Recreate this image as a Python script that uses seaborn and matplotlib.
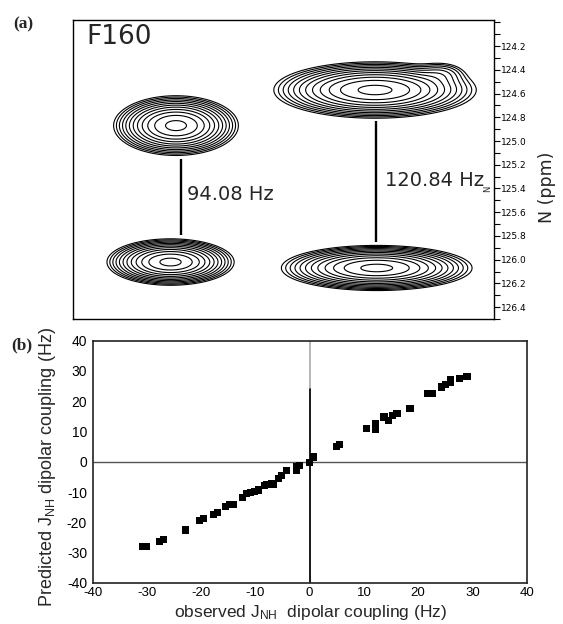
import numpy as np
import pandas as pd
import matplotlib
matplotlib.use("Agg")
import matplotlib.pyplot as plt
from matplotlib.ticker import MultipleLocator, FixedLocator
import seaborn as sns

# ---------------- data ----------------
# panel (a): peak parameters (x in arbitrary 1H units 0-100, y in 15N ppm)
peak_x = [24.5, 23.2, 71.8, 72.2, 87.5]
peak_y = [124.87, 126.02, 124.57, 126.07, 124.43]
peak_sx = [5.3, 5.4, 8.6, 8.1, 3.0]
peak_sy = [0.090, 0.070, 0.085, 0.068, 0.05]
peak_amp = [1.0, 1.0, 1.0, 1.0, 0.06]
contour_levels = [0.02 * 1.413 ** k for k in range(12)]
n_ticks = [124.2, 124.4, 124.6, 124.8, 125.0, 125.2, 125.4, 125.6, 125.8, 126.0, 126.2, 126.4]
n_tick_labels = ["124.2", "124.4", "124.6", "124.8", "125.0", "125.2", "125.4", "125.6",
                 "125.8", "126.0", "126.2", "126.4"]
couplings = ["94.08 Hz", "120.84 Hz"]

# panel (b): observed vs predicted dipolar couplings (Hz)
observed = [-30.8, -30.0, -27.6, -26.9, -22.8, -20.3, -19.6, -17.7, -17.0, -15.5, -14.7, -14.0,
            -12.3, -11.6, -10.9, -10.1, -9.5, -8.4, -7.9, -7.0, -6.6, -5.8, -5.2, -4.2,
            -2.5, -2.5, -1.8, -0.1, 0.7, 5.0, 5.5, 10.4, 12.1, 12.1, 13.7, 14.5, 15.3, 16.1,
            18.5, 21.8, 22.6, 24.3, 25.0, 26.0, 26.0, 27.6, 29.0]
predicted = [-28.0, -28.0, -26.4, -25.5, -22.5, -19.5, -18.8, -17.3, -16.6, -14.8, -14.0, -14.0,
             -11.8, -10.4, -10.0, -9.8, -9.3, -7.9, -7.6, -7.3, -7.3, -5.6, -4.5, -2.9,
             -3.0, -1.5, -1.2, -0.2, 1.6, 5.0, 5.6, 11.0, 10.6, 12.8, 14.8, 13.7, 15.3, 16.1,
             17.6, 22.7, 22.5, 24.7, 25.5, 26.3, 27.3, 27.5, 28.2]
b_ticks = [-40, -30, -20, -10, 0, 10, 20, 30, 40]

# ---------------- style ----------------
sns.set_style("white")
plt.rcParams["font.family"] = ["DejaVu Sans"]
plt.rcParams["mathtext.fontset"] = "custom"
plt.rcParams["mathtext.rm"] = "Liberation Sans"
plt.rcParams["mathtext.it"] = "Liberation Sans"

W, H = 563, 624
fig = plt.figure(figsize=(W / 100, H / 100), dpi=100)
fig.patch.set_facecolor("white")

# ---------------- panel (a) ----------------
axA = fig.add_axes([72.9 / W, 1 - 319 / H, (493.7 - 72.9) / W, (319 - 20) / H])
xg = np.linspace(0, 100, 700)
yg = np.linspace(123.9, 126.6, 700)
X, Y = np.meshgrid(xg, yg)
Z = np.zeros_like(X)
for x0, y0, sx, sy, a in zip(peak_x, peak_y, peak_sx, peak_sy, peak_amp):
    Z += a * np.exp(-0.5 * ((X - x0) / sx) ** 2 - 0.5 * ((Y - y0) / sy) ** 2)
axA.contour(X, Y, Z, levels=contour_levels, colors="black", linewidths=0.8)

axA.set_xlim(0, 100)
axA.set_ylim(126.5, 123.98)
axA.set_xticks([])
axA.yaxis.tick_right()
axA.yaxis.set_major_locator(FixedLocator(n_ticks))
axA.set_yticklabels(n_tick_labels)
axA.yaxis.set_minor_locator(MultipleLocator(0.1))
axA.tick_params(axis="y", which="both", direction="out", length=4, width=0.8,
                labelsize=6.5, pad=1, right=True, left=False, colors="black")
for sp in axA.spines.values():
    sp.set_color("black")
    sp.set_linewidth(1.0)

# coupling lines and labels
axA.vlines([25.7], 125.15, 125.79, color="black", lw=1.7)
axA.vlines([72.0], 124.83, 125.85, color="black", lw=1.7)
axA.text(27.2, 125.45, couplings[0], fontsize=14, ha="left", va="center")
axA.text(74.2, 125.33, couplings[1], fontsize=14, ha="left", va="center")
axA.text(3.1, 124.12, "F160", fontsize=19, ha="left", va="center")

fig.text(546.7 / W, 1 - 187 / H, "N (ppm)", rotation=90, fontsize=12.5,
         ha="center", va="center")
fig.text(488 / W, 1 - 189 / H, "N", rotation=90, fontsize=6, ha="center", va="center")
fig.text(13 / W, 1 - 24 / H, "(a)", family="Liberation Serif", weight="bold",
         fontsize=12.5, ha="left", va="center")

# ---------------- panel (b) ----------------
axB = fig.add_axes([92.6 / W, 1 - 583 / H, (526.7 - 92.6) / W, (583 - 340.7) / H])
df = pd.DataFrame({"observed": observed, "predicted": predicted})
axB.axhline(0, color="#555555", lw=1.0, zorder=1)
axB.axvline(0, color="#aaaaaa", lw=1.2, zorder=1)
axB.axvline(0, ymin=0, ymax=(24 + 40) / 80, color="black", lw=1.2, zorder=1)
sns.scatterplot(data=df, x="observed", y="predicted", marker="s", s=26, color="black",
                edgecolor="none", linewidth=0, ax=axB, legend=False, zorder=3)
axB.set_xlim(-40, 40)
axB.set_ylim(-40, 40)
axB.set_xticks(b_ticks)
axB.set_yticks(b_ticks)
axB.set_xticklabels([str(t) for t in b_ticks], family="Liberation Sans", fontsize=9.5)
axB.set_yticklabels([str(t) for t in b_ticks], family="Liberation Sans", fontsize=10)
axB.tick_params(axis="x", length=0, pad=3, colors="black")
axB.tick_params(axis="y", length=0, pad=4, colors="black")
axB.set_xlabel("")
axB.set_ylabel("")
for sp in axB.spines.values():
    sp.set_color("#222222")
    sp.set_linewidth(1.2)

fig.text(48 / W, 1 - 467.5 / H, r"Predicted $\mathrm{J}_{\mathrm{NH}}$ dipolar coupling (Hz)",
         rotation=90, fontsize=13, family="Liberation Sans", ha="center", va="center")
fig.text(311 / W, 1 - 617 / H, r"observed $\mathrm{J}_{\mathrm{NH}}$  dipolar coupling (Hz)",
         fontsize=12.5, family="Liberation Sans", ha="center", va="baseline")
fig.text(11 / W, 1 - 345 / H, "(b)", family="Liberation Serif", weight="bold",
         fontsize=12.5, ha="left", va="center")

fig.savefig("out.png", dpi=100, facecolor="white")
